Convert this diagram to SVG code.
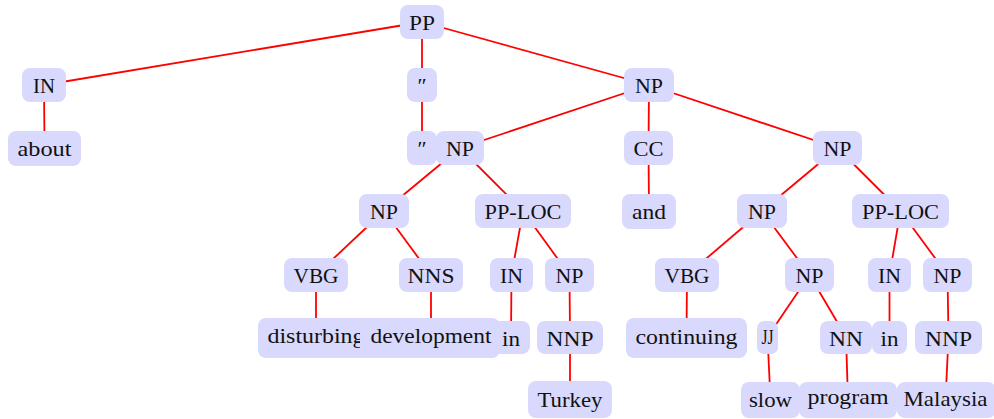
<svg xmlns="http://www.w3.org/2000/svg" width="994" height="419" viewBox="0 0 994 419">
  <style>
    .edge { stroke: #ff0000; stroke-width: 1.8; fill: none; }
    .box { fill: #d9d9fd; stroke: none; }
    .lbl { font-family: "Liberation Serif", "Times New Roman", serif; font-size: 22px; fill: #111; text-anchor: middle; }
    .lbl.small { font-size: 20px; }
  </style>
  <rect width="994" height="419" fill="#ffffff"/>

  <!-- connectors: centre to centre, nodes are drawn on top -->
  <g id="connectors">
    <line class="edge" x1="422" y1="22" x2="44" y2="85"/>
    <line class="edge" x1="422" y1="22" x2="422" y2="85"/>
    <line class="edge" x1="422" y1="22" x2="649" y2="85"/>
    <line class="edge" x1="44" y1="85" x2="44.5" y2="148"/>
    <line class="edge" x1="422" y1="85" x2="422" y2="148"/>
    <line class="edge" x1="649" y1="85" x2="460" y2="148"/>
    <line class="edge" x1="649" y1="85" x2="648.5" y2="148"/>
    <line class="edge" x1="649" y1="85" x2="837.5" y2="148"/>
    <line class="edge" x1="648.5" y1="148" x2="649" y2="211"/>
    <line class="edge" x1="460" y1="148" x2="384" y2="211"/>
    <line class="edge" x1="460" y1="148" x2="523" y2="211"/>
    <line class="edge" x1="837.5" y1="148" x2="762" y2="211"/>
    <line class="edge" x1="837.5" y1="148" x2="900.5" y2="211"/>
    <line class="edge" x1="384" y1="211" x2="316" y2="275"/>
    <line class="edge" x1="384" y1="211" x2="431" y2="275"/>
    <line class="edge" x1="523" y1="211" x2="511.5" y2="275"/>
    <line class="edge" x1="523" y1="211" x2="569.5" y2="275"/>
    <line class="edge" x1="762" y1="211" x2="687" y2="275"/>
    <line class="edge" x1="762" y1="211" x2="809.5" y2="275"/>
    <line class="edge" x1="900.5" y1="211" x2="889.5" y2="275"/>
    <line class="edge" x1="900.5" y1="211" x2="947.5" y2="275"/>
    <line class="edge" x1="316" y1="275" x2="316" y2="338"/>
    <line class="edge" x1="431" y1="275" x2="431" y2="338"/>
    <line class="edge" x1="511.5" y1="275" x2="511" y2="337"/>
    <line class="edge" x1="569.5" y1="275" x2="570" y2="337"/>
    <line class="edge" x1="570" y1="337" x2="570" y2="399"/>
    <line class="edge" x1="687" y1="275" x2="686.5" y2="338"/>
    <line class="edge" x1="809.5" y1="275" x2="767.5" y2="337"/>
    <line class="edge" x1="809.5" y1="275" x2="846" y2="337"/>
    <line class="edge" x1="889.5" y1="275" x2="889.5" y2="337"/>
    <line class="edge" x1="947.5" y1="275" x2="948.5" y2="337"/>
    <line class="edge" x1="767.5" y1="337" x2="770.5" y2="400"/>
    <line class="edge" x1="846" y1="337" x2="848" y2="400"/>
    <line class="edge" x1="948.5" y1="337" x2="945.5" y2="400"/>
  </g>

  <!-- level 0 -->
  <g id="pp-root"><rect class="box" x="400" y="5" width="44" height="34" rx="8"/><text class="lbl" x="422" y="29.5" textLength="26" lengthAdjust="spacingAndGlyphs">PP</text></g>

  <!-- level 1 -->
  <g id="in-1"><rect class="box" x="22" y="68" width="44" height="34" rx="8"/><text class="lbl" x="44" y="92.5" textLength="22" lengthAdjust="spacingAndGlyphs">IN</text></g>
  <g id="quote-tag"><rect class="box" x="407" y="68" width="30" height="34" rx="8"/><text class="lbl" x="422" y="92.5">″</text></g>
  <g id="np-1"><rect class="box" x="624" y="68" width="50" height="34" rx="8"/><text class="lbl" x="649" y="92.5" textLength="28" lengthAdjust="spacingAndGlyphs">NP</text></g>

  <!-- level 2 -->
  <g id="w-about"><rect class="box" x="8" y="131" width="73" height="35" rx="8"/><text class="lbl" x="44.5" y="156" textLength="54" lengthAdjust="spacingAndGlyphs">about</text></g>
  <g id="w-quote"><rect class="box" x="407" y="131" width="30" height="34" rx="8"/><text class="lbl" x="422" y="155.5">″</text></g>
  <g id="np-2a"><rect class="box" x="436" y="131" width="48" height="34" rx="8"/><text class="lbl" x="460" y="155.5" textLength="28" lengthAdjust="spacingAndGlyphs">NP</text></g>
  <g id="cc"><rect class="box" x="624" y="131" width="49" height="34" rx="8"/><text class="lbl" x="648.5" y="155.5" textLength="30" lengthAdjust="spacingAndGlyphs">CC</text></g>
  <g id="np-2b"><rect class="box" x="813" y="131" width="49" height="34" rx="8"/><text class="lbl" x="837.5" y="155.5" textLength="28" lengthAdjust="spacingAndGlyphs">NP</text></g>

  <!-- level 3 -->
  <g id="np-3a"><rect class="box" x="359" y="194" width="50" height="34" rx="8"/><text class="lbl" x="384" y="218.5" textLength="28" lengthAdjust="spacingAndGlyphs">NP</text></g>
  <g id="pploc-a"><rect class="box" x="475" y="194" width="96" height="34" rx="8"/><text class="lbl" x="523" y="218.5" textLength="77" lengthAdjust="spacingAndGlyphs">PP-LOC</text></g>
  <g id="w-and"><rect class="box" x="622" y="194" width="54" height="35" rx="8"/><text class="lbl" x="649" y="218.5" textLength="34" lengthAdjust="spacingAndGlyphs">and</text></g>
  <g id="np-3b"><rect class="box" x="737" y="194" width="50" height="34" rx="8"/><text class="lbl" x="762" y="218.5" textLength="28" lengthAdjust="spacingAndGlyphs">NP</text></g>
  <g id="pploc-b"><rect class="box" x="852" y="194" width="97" height="34" rx="8"/><text class="lbl" x="900.5" y="218.5" textLength="77" lengthAdjust="spacingAndGlyphs">PP-LOC</text></g>

  <!-- level 4 -->
  <g id="vbg-a"><rect class="box" x="284" y="258" width="64" height="34" rx="8"/><text class="lbl" x="316" y="282.5" textLength="45" lengthAdjust="spacingAndGlyphs">VBG</text></g>
  <g id="nns"><rect class="box" x="399" y="258" width="64" height="34" rx="8"/><text class="lbl" x="431" y="282.5" textLength="47" lengthAdjust="spacingAndGlyphs">NNS</text></g>
  <g id="in-a"><rect class="box" x="490" y="258" width="43" height="34" rx="8"/><text class="lbl" x="511.5" y="282.5" textLength="23" lengthAdjust="spacingAndGlyphs">IN</text></g>
  <g id="np-4a"><rect class="box" x="545" y="258" width="49" height="34" rx="8"/><text class="lbl" x="569.5" y="282.5" textLength="28" lengthAdjust="spacingAndGlyphs">NP</text></g>
  <g id="vbg-b"><rect class="box" x="655" y="258" width="64" height="34" rx="8"/><text class="lbl" x="687" y="282.5" textLength="45" lengthAdjust="spacingAndGlyphs">VBG</text></g>
  <g id="np-4b"><rect class="box" x="785" y="258" width="49" height="34" rx="8"/><text class="lbl" x="809.5" y="282.5" textLength="28" lengthAdjust="spacingAndGlyphs">NP</text></g>
  <g id="in-b"><rect class="box" x="868" y="258" width="43" height="34" rx="8"/><text class="lbl" x="889.5" y="282.5" textLength="23" lengthAdjust="spacingAndGlyphs">IN</text></g>
  <g id="np-4c"><rect class="box" x="923" y="258" width="49" height="34" rx="8"/><text class="lbl" x="947.5" y="282.5" textLength="28" lengthAdjust="spacingAndGlyphs">NP</text></g>

  <!-- level 5 -->
  <g id="w-disturbing"><rect class="box" x="258" y="318" width="116" height="40" rx="8"/><text class="lbl" x="316" y="343" textLength="97" lengthAdjust="spacingAndGlyphs">disturbing</text></g>
  <g id="w-in-a"><rect class="box" x="492" y="321" width="38" height="33" rx="8"/><text class="lbl" x="511" y="345.5" textLength="18" lengthAdjust="spacingAndGlyphs">in</text></g>
  <g id="w-development"><rect class="box" x="360" y="318" width="140" height="40" rx="8"/><text class="lbl" x="431" y="343" textLength="121" lengthAdjust="spacingAndGlyphs">development</text></g>
  <g id="nnp-a"><rect class="box" x="537" y="321" width="66" height="33" rx="8"/><text class="lbl" x="570" y="345.5" textLength="47" lengthAdjust="spacingAndGlyphs">NNP</text></g>
  <g id="w-continuing"><rect class="box" x="626" y="318" width="121" height="40" rx="8"/><text class="lbl" x="686.5" y="344" textLength="102" lengthAdjust="spacingAndGlyphs">continuing</text></g>
  <g id="jj"><rect class="box" x="757" y="321" width="21" height="33" rx="7"/><text class="lbl small" x="767.5" y="344" textLength="12" lengthAdjust="spacingAndGlyphs">JJ</text></g>
  <g id="w-in-b"><rect class="box" x="872" y="321" width="35" height="33" rx="8"/><text class="lbl" x="889.5" y="345.5" textLength="18" lengthAdjust="spacingAndGlyphs">in</text></g>
  <g id="nn"><rect class="box" x="820" y="321" width="52" height="33" rx="8"/><text class="lbl" x="846" y="345.5" textLength="34" lengthAdjust="spacingAndGlyphs">NN</text></g>
  <g id="nnp-b"><rect class="box" x="915" y="321" width="67" height="33" rx="8"/><text class="lbl" x="948.5" y="345.5" textLength="47" lengthAdjust="spacingAndGlyphs">NNP</text></g>

  <!-- level 6 -->
  <g id="w-turkey"><rect class="box" x="528" y="381" width="84" height="37" rx="8"/><text class="lbl" x="570" y="406.5" textLength="65" lengthAdjust="spacingAndGlyphs">Turkey</text></g>
  <g id="w-slow"><rect class="box" x="741" y="382" width="59" height="36" rx="8"/><text class="lbl" x="770.5" y="407" textLength="43" lengthAdjust="spacingAndGlyphs">slow</text></g>
  <g id="w-program"><rect class="box" x="799" y="382" width="98" height="36" rx="8"/><text class="lbl" x="848" y="403.5" textLength="81" lengthAdjust="spacingAndGlyphs">program</text></g>
  <g id="w-malaysia"><rect class="box" x="897" y="382" width="99" height="36" rx="8"/><text class="lbl" x="945.5" y="406" textLength="84" lengthAdjust="spacingAndGlyphs">Malaysia</text></g>
</svg>
